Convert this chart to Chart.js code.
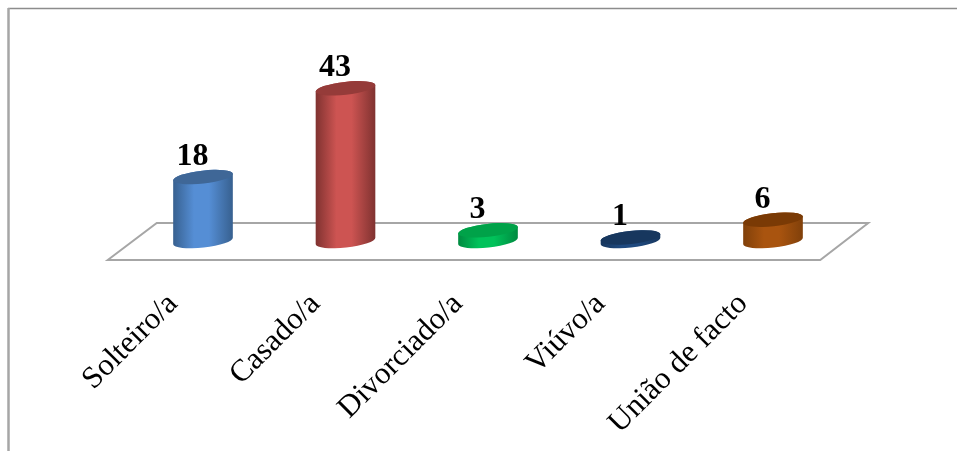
<!DOCTYPE html>
<html>
<head>
<meta charset="utf-8">
<title>Estado civil</title>
<script src="https://cdn.jsdelivr.net/npm/chart.js@4"></script>
<style>
  html, body { margin: 0; padding: 0; background: #fff; }
  canvas { display: block; }
</style>
</head>
<body>
<canvas id="estadoCivil" width="957" height="451"></canvas>
<script>
const categories = ['Solteiro/a', 'Casado/a', 'Divorciado/a', 'Viúvo/a', 'União de facto'];
const values = [18, 43, 3, 1, 6];

// cylinder shading: side edge, side centre, top cap
const edgeColors = ['#37608f', '#7f3230', '#008a40', '#17375e', '#80400a'];
const midColors = ['#558ed5', '#cd5452', '#00c25a', '#1f4a80', '#a9540f'];
const capColors = ['#3f6797', '#953b39', '#00a249', '#17375e', '#7a3a05'];

const BAR_W = 60;
const CAP_RY = 6.5;
const CAP_ROT = -0.11;

function sideGradient(ctx, x, i) {
    const g = ctx.createLinearGradient(x - BAR_W / 2, 0, x + BAR_W / 2, 0);
    g.addColorStop(0, edgeColors[i]);
    g.addColorStop(0.35, midColors[i]);
    g.addColorStop(0.6, midColors[i]);
    g.addColorStop(1, edgeColors[i]);
    return g;
}

// floor of the 3D plot, drawn under the cylinders
const floorPlugin = {
    id: 'floor',
    beforeDatasetsDraw(chart) {
        const { ctx, chartArea: a } = chart;
        ctx.save();
        ctx.strokeStyle = '#a6a6a6';
        ctx.lineWidth = 2;
        ctx.beginPath();
        ctx.moveTo(a.left - 24, a.bottom + 19);
        ctx.lineTo(a.left + 25, a.bottom - 18);
        ctx.lineTo(a.right + 24, a.bottom - 18);
        ctx.lineTo(a.right - 24, a.bottom + 19);
        ctx.closePath();
        ctx.stroke();
        ctx.restore();
    }
};

// replaces the flat bars with cylinders, using the bar element geometry
const cylinderPlugin = {
    id: 'cylinders',
    beforeDatasetDraw(chart, args) {
        const { ctx } = chart;
        const rx = BAR_W / 2;
        args.meta.data.forEach((bar, i) => {
            ctx.save();
            ctx.fillStyle = sideGradient(ctx, bar.x, i);
            ctx.beginPath();
            ctx.ellipse(bar.x, bar.base, rx, CAP_RY, CAP_ROT, 0, Math.PI);
            ctx.ellipse(bar.x, bar.y, rx, CAP_RY, CAP_ROT, Math.PI, Math.PI * 2);
            ctx.closePath();
            ctx.fill();
            ctx.fillStyle = capColors[i];
            ctx.beginPath();
            ctx.ellipse(bar.x, bar.y, rx, CAP_RY, CAP_ROT, 0, Math.PI * 2);
            ctx.fill();

            ctx.fillStyle = '#000';
            ctx.font = 'bold 32px "Liberation Serif"';
            ctx.textAlign = 'center';
            ctx.textBaseline = 'alphabetic';
            ctx.fillText(String(values[i]), bar.x - 10.5, bar.y - 12);
            ctx.restore();
        });
        return false;
    }
};

// frame around the chart, only the top and left sides are visible
const framePlugin = {
    id: 'frame',
    beforeDraw(chart) {
        const { ctx, width, height } = chart;
        ctx.save();
        ctx.strokeStyle = '#8c8c8c';
        ctx.lineWidth = 1.5;
        ctx.beginPath();
        ctx.moveTo(8, 8.5);
        ctx.lineTo(width, 8.5);
        ctx.stroke();
        ctx.strokeStyle = '#a6a6a6';
        ctx.lineWidth = 2.5;
        ctx.beginPath();
        ctx.moveTo(8.5, 8);
        ctx.lineTo(8.5, height);
        ctx.stroke();
        ctx.restore();
    }
};

new Chart(document.getElementById('estadoCivil'), {
    type: 'bar',
    data: {
        labels: categories,
        datasets: [{
            data: values,
            barThickness: BAR_W,
            backgroundColor: midColors
        }]
    },
    options: {
        responsive: false,
        animation: false,
        layout: {
            padding: { left: 131.75, right: 112.75, top: 63.5, bottom: 0 }
        },
        plugins: {
            legend: { display: false },
            tooltip: { enabled: false }
        },
        scales: {
            x: {
                grid: { display: false },
                border: { display: false },
                afterFit(scale) {
                    scale.height = 210;
                    scale.paddingLeft = 0;
                    scale.paddingRight = 0;
                },
                ticks: {
                    autoSkip: false,
                    minRotation: 45,
                    maxRotation: 45,
                    labelOffset: -30,
                    padding: 37,
                    color: '#000',
                    font: { family: '"Liberation Serif"', size: 31 }
                }
            },
            y: {
                display: false,
                min: 0,
                max: 50
            }
        }
    },
    plugins: [framePlugin, floorPlugin, cylinderPlugin]
});
</script>
</body>
</html>
